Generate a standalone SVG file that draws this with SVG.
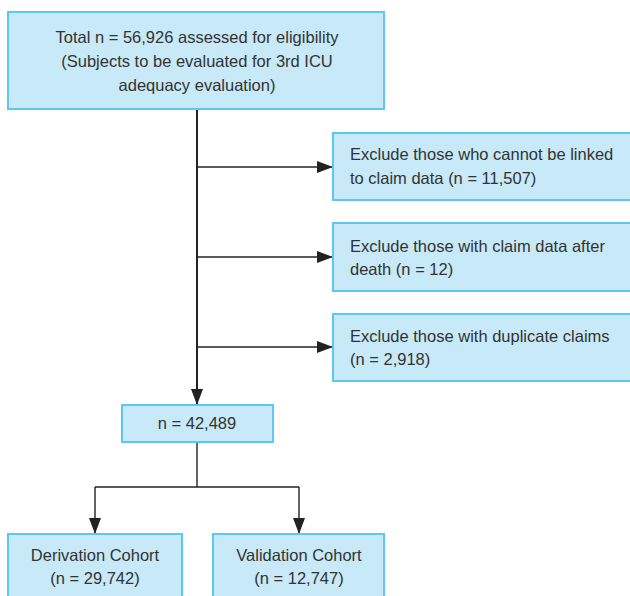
<svg xmlns="http://www.w3.org/2000/svg" width="630" height="596" viewBox="0 0 630 596">
<defs>
<style>
.box{fill:#c7e9f8;stroke:#5cc8f0;stroke-width:2}
.t{font-family:"Liberation Sans",Arial,sans-serif;font-size:16.5px;fill:#333}
.c{text-anchor:middle}
.ln{fill:none;stroke:#222;stroke-width:1.4}
.main{fill:none;stroke:#222;stroke-width:2}
</style>
<marker id="ah" markerWidth="16" markerHeight="12" refX="16" refY="6" orient="auto" markerUnits="userSpaceOnUse">
<path d="M0,0 L16,6 L0,12 Z" fill="#222"/>
</marker>
</defs>
<rect width="630" height="596" fill="#fff"/>
<g id="connectors">
<path class="main" d="M197,109 V405" marker-end="url(#ah)"/>
<path class="ln" d="M197,167 H333" marker-end="url(#ah)"/>
<path class="ln" d="M197,257 H333" marker-end="url(#ah)"/>
<path class="ln" d="M197,347 H333" marker-end="url(#ah)"/>
<path class="ln" d="M197,442 V487 M95,487 H299"/>
<path class="ln" d="M95,487 V534" marker-end="url(#ah)"/>
<path class="ln" d="M299,487 V534" marker-end="url(#ah)"/>
</g>
<g id="total">
<rect class="box" x="8" y="12" width="376" height="97"/>
<text class="t c" x="197" y="43">Total n = 56,926 assessed for eligibility</text>
<text class="t c" x="197" y="67">(Subjects to be evaluated for 3rd ICU</text>
<text class="t c" x="197" y="91">adequacy evaluation)</text>
</g>
<g id="excl1">
<rect class="box" x="333" y="133" width="300" height="67"/>
<text class="t" x="350" y="160">Exclude those who cannot be linked</text>
<text class="t" x="350" y="184">to claim data (n = 11,507)</text>
</g>
<g id="excl2">
<rect class="box" x="333" y="223" width="300" height="68"/>
<text class="t" x="350" y="252">Exclude those with claim data after</text>
<text class="t" x="350" y="275">death (n = 12)</text>
</g>
<g id="excl3">
<rect class="box" x="333" y="314" width="300" height="67"/>
<text class="t" x="350" y="342">Exclude those with duplicate claims</text>
<text class="t" x="350" y="365">(n = 2,918)</text>
</g>
<g id="n42489">
<rect class="box" x="122" y="405" width="151" height="37"/>
<text class="t c" x="197" y="429">n = 42,489</text>
</g>
<g id="derivation">
<rect class="box" x="8" y="534" width="174" height="66"/>
<text class="t c" x="95" y="561">Derivation Cohort</text>
<text class="t c" x="95" y="584">(n = 29,742)</text>
</g>
<g id="validation">
<rect class="box" x="213" y="534" width="171" height="66"/>
<text class="t c" x="299" y="561">Validation Cohort</text>
<text class="t c" x="299" y="584">(n = 12,747)</text>
</g>
</svg>
